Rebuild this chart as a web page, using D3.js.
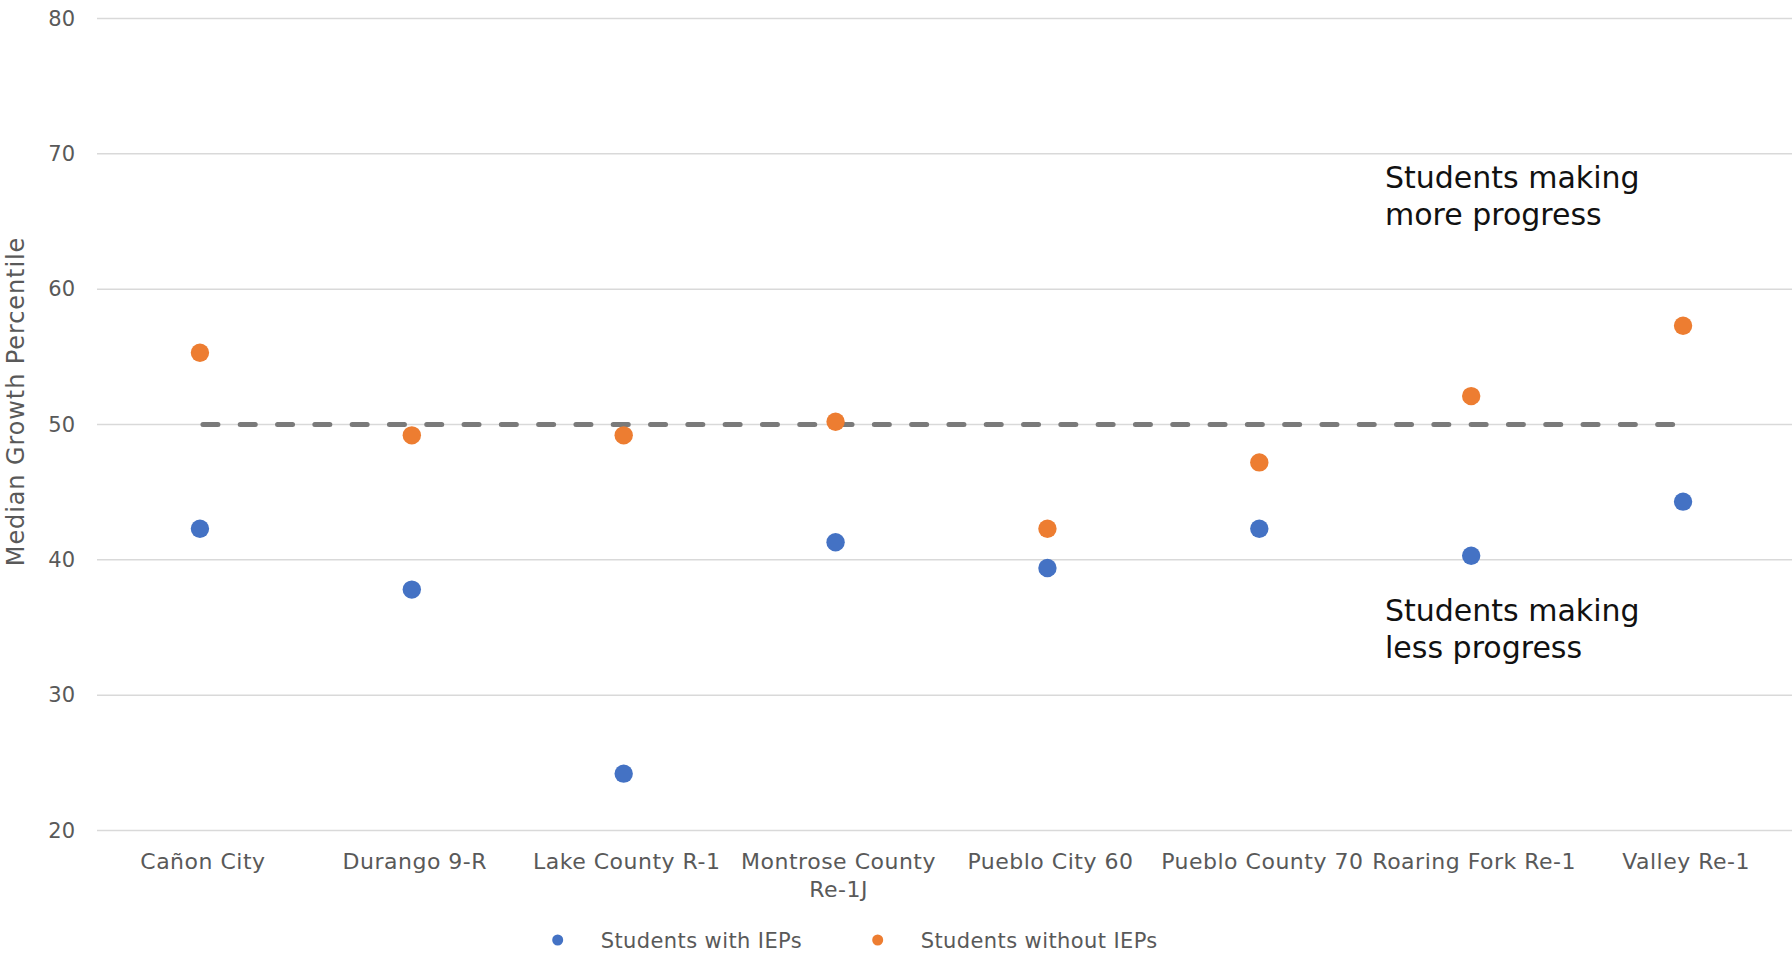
<!DOCTYPE html>
<html>
<head>
<meta charset="utf-8">
<script src="https://cdn.jsdelivr.net/npm/d3@7"></script>
<style>
  html, body { margin: 0; padding: 0; background: #fff; }
  svg { display: block; }
  text { font-family: "DejaVu Sans", sans-serif; }
</style>
</head>
<body>
<svg id="chart" width="1792" height="959"></svg>
<script>
const categories = ["Cañon City", "Durango 9-R", "Lake County R-1", "Montrose County Re-1J", "Pueblo City 60", "Pueblo County 70", "Roaring Fork Re-1", "Valley Re-1"];
const categoryLines = [["Cañon City"], ["Durango 9-R"], ["Lake County R-1"], ["Montrose County", "Re-1J"], ["Pueblo City 60"], ["Pueblo County 70"], ["Roaring Fork Re-1"], ["Valley Re-1"]];
const withIEPs = [42.3, 37.8, 24.2, 41.3, 39.4, 42.3, 40.3, 44.3];
const withoutIEPs = [55.3, 49.2, 49.2, 50.2, 42.3, 47.2, 52.1, 57.3];
const threshold = 50;
const yTicks = [20, 30, 40, 50, 60, 70, 80];
const seriesNames = ["Students with IEPs", "Students without IEPs"];
const seriesColors = ["#4472C4", "#ED7D31"];
const annotations = [
  { value: 67.5, lines: ["Students making", "more progress"] },
  { value: 35.5, lines: ["Students making", "less progress"] }
];

const svg = d3.select("#chart");
const x = d3.scalePoint().domain(categories).range([94, 1789]).padding(0.5);
const y = d3.scaleLinear().domain([20, 80]).range([830.5, 18.5]);

// gridlines
svg.append("g").selectAll("line").data(yTicks).join("line")
  .attr("x1", 97).attr("x2", 1792)
  .attr("y1", d => y(d)).attr("y2", d => y(d))
  .attr("stroke", "#D9D9D9").attr("stroke-width", 1.5);

// y axis labels
const yAxis = d3.axisLeft(y).tickValues(yTicks).tickSize(0).tickPadding(0);
const yg = svg.append("g").attr("transform", "translate(75,0)").call(yAxis);
yg.select(".domain").remove();
yg.selectAll("text").attr("fill", "#595959").style("font-size", "21px")
  .style("font-family", '"DejaVu Sans", sans-serif');

// y axis title
svg.append("text")
  .attr("transform", `translate(24,${y(50) - 23}) rotate(-90)`)
  .attr("text-anchor", "middle")
  .attr("fill", "#595959").style("font-size", "24px").style("letter-spacing", "0.9px")
  .text("Median Growth Percentile");

// x labels
const xl = svg.append("g").selectAll("text").data(categories).join("text")
  .attr("x", d => x(d) + 3).attr("y", 869)
  .attr("text-anchor", "middle").attr("fill", "#595959")
  .style("font-size", "22px").style("letter-spacing", "0.5px");
xl.each(function(d, i) {
  const t = d3.select(this);
  categoryLines[i].forEach((ln, j) => {
    t.append("tspan").attr("x", x(d) + 3).attr("dy", j === 0 ? 0 : 28).text(ln);
  });
});

// threshold dashed line
svg.append("line")
  .attr("x1", x(categories[0]) + 3).attr("x2", x(categories[categories.length - 1]))
  .attr("y1", y(threshold)).attr("y2", y(threshold))
  .attr("stroke", "#7A7A7A").attr("stroke-width", 5)
  .attr("stroke-linecap", "round").attr("stroke-dasharray", "15 22.3");

// points
[withIEPs, withoutIEPs].forEach((vals, si) => {
  svg.append("g").selectAll("circle").data(vals).join("circle")
    .attr("cx", (d, i) => x(categories[i]))
    .attr("cy", d => y(d))
    .attr("r", 9.2)
    .attr("fill", seriesColors[si]);
});

// annotations
annotations.forEach(a => {
  const t = svg.append("text").attr("x", 1385).attr("y", y(a.value))
    .attr("fill", "#111").style("font-size", "30px");
  a.lines.forEach((ln, j) => t.append("tspan").attr("x", 1385).attr("dy", j === 0 ? 0 : 37).text(ln));
});

// legend
const legendX = [557.7, 877.7];
seriesNames.forEach((n, i) => {
  svg.append("circle").attr("cx", legendX[i]).attr("cy", 940).attr("r", 5.5).attr("fill", seriesColors[i]);
  svg.append("text").attr("x", legendX[i] + 43).attr("y", 947.5)
    .attr("fill", "#595959").style("font-size", "21px").style("letter-spacing", "0.4px").text(n);
});
</script>
</body>
</html>
